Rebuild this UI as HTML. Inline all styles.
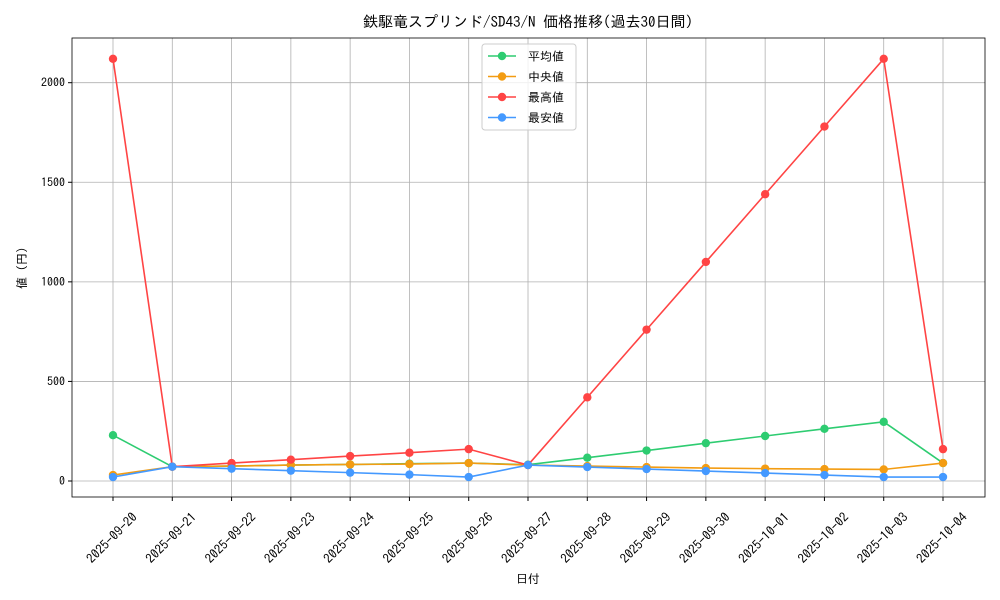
<!DOCTYPE html>
<html><head><meta charset="utf-8"><style>body{margin:0;background:#fff}svg{display:block}text{font-family:"IPAGothic","Noto Sans CJK JP",monospace;fill:#000}</style></head><body>
<svg id="s" width="1000" height="600" xmlns="http://www.w3.org/2000/svg"></svg>
<script>
const s=document.getElementById('s');let h='';
const L=72,R=985,T=38,B=497;
const X=i=>113+i*59.286, Y=v=>481-v*0.19915;
h+=`<text x="528" y="27" font-size="15" text-anchor="middle">鉄駆竜スプリンド/SD43/N 価格推移(過去30日間)</text>`;
const dates=['2025-09-20','2025-09-21','2025-09-22','2025-09-23','2025-09-24','2025-09-25','2025-09-26','2025-09-27','2025-09-28','2025-09-29','2025-09-30','2025-10-01','2025-10-02','2025-10-03','2025-10-04'];
dates.forEach((d,i)=>{const x=X(i);h+=`<line x1="${x}" y1="${T}" x2="${x}" y2="${B}" stroke="#b0b0b0" stroke-width="0.8"/><line x1="${x}" y1="${B}" x2="${x}" y2="${B+4}" stroke="#000"/><text transform="translate(${x+2},${B+44}) rotate(-45)" font-size="13" text-anchor="middle">${d}</text>`;});
[0,500,1000,1500,2000].forEach(v=>{const y=Y(v);h+=`<line x1="${L}" y1="${y}" x2="${R}" y2="${y}" stroke="#b0b0b0" stroke-width="0.8"/><line x1="${L-4}" y1="${y}" x2="${L}" y2="${y}" stroke="#000"/><text x="${L-7}" y="${y+4}" font-size="12" text-anchor="end">${v}</text>`;});
h+=`<rect x="${L}" y="${T}" width="${R-L}" height="${B-T}" fill="none" stroke="#000" stroke-width="0.8"/>`;
h+=`<text x="528" y="583" font-size="12" text-anchor="middle">日付</text><text transform="translate(26,268) rotate(-90)" font-size="12" text-anchor="middle">値 (円)</text>`;
const S=[['#2ecc71',[230,72,75,80,83,87,90,82,117,153,190,226,262,297,90]],['#f39c12',[30,72,75,80,83,85,90,80,75,70,65,62,60,58,90]],['#ff4444',[2120,72,90,107,125,142,160,80,420,760,1100,1440,1780,2120,160]],['#4499ff',[20,72,62,52,42,32,20,80,70,60,50,40,30,20,20]]];
S.forEach(([c,d])=>{h+=`<polyline fill="none" stroke="${c}" stroke-width="1.6" points="${d.map((v,i)=>X(i)+','+Y(v)).join(' ')}"/>`;d.forEach((v,i)=>h+=`<circle cx="${X(i)}" cy="${Y(v)}" r="4.2" fill="${c}"/>`);});
h+=`<rect x="482" y="44" width="94" height="86" fill="#fff" fill-opacity="0.8" stroke="#ccc" rx="3"/>`;
['平均値','中央値','最高値','最安値'].forEach((n,i)=>{const y=56+i*20.5,c=S[i][0];h+=`<line x1="488" y1="${y}" x2="516" y2="${y}" stroke="${c}" stroke-width="1.6"/><circle cx="502" cy="${y}" r="4.2" fill="${c}"/><text x="528" y="${y+4.5}" font-size="12">${n}</text>`;});
s.innerHTML=h;
</script></body></html>
